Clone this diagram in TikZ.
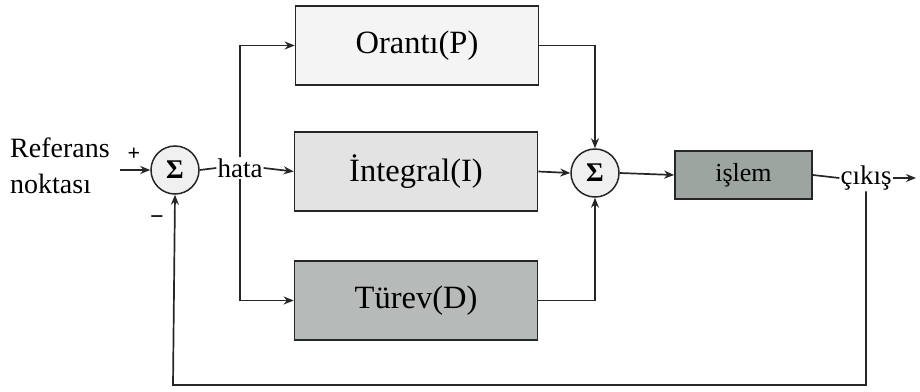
\documentclass[tikz,border=0pt]{standalone}
\usepackage{fontspec}
\setmainfont{Liberation Serif}
\usetikzlibrary{arrows.meta}
\definecolor{fillP}{HTML}{F4F4F4}
\definecolor{fillI}{HTML}{E3E3E3}
\definecolor{fillD}{HTML}{B6BAB8}
\definecolor{fillS}{HTML}{9DA5A1}
\definecolor{fillC}{HTML}{F0F0F0}
\begin{document}
\begin{tikzpicture}[x=1pt,y=-1pt,
  blk/.style={draw=black!85,line width=1.7pt,minimum width=243pt,minimum height=79pt,inner sep=0pt,font=\fontsize{32.5}{36}\selectfont},
  sumc/.style={circle,draw=black!85,line width=1.5pt,fill=fillC,minimum size=48pt,inner sep=0pt,font=\fontsize{27}{30}\selectfont\bfseries},
  lbl/.style={font=\fontsize{27}{36}\selectfont,inner sep=1pt},
  wire/.style={line width=1.7pt,draw=black!85},
  arr/.style={wire,-{Stealth[length=10pt,width=8pt]}}]
\useasboundingbox (0,0) rectangle (920,391);
\node[lbl,align=left,anchor=west,font=\fontsize{28}{36}\selectfont] (ref) at (9,166) {Referans\\noktası};
\node[sumc] (s1) at (175,170) {Σ};
\node[lbl,font=\fontsize{22}{24}\selectfont\bfseries] (plus) at (134,154) {+};
\node[lbl,font=\fontsize{24}{24}\selectfont\bfseries] (minus) at (157,220) {−};
\coordinate (in) at (120,170);
\node[lbl] (hata) at (240,168) {hata};
\node[blk,fill=fillP] (P) at (417,45.5) {Orantı(P)};
\node[blk,fill=fillI] (I) at (416,171.5) {İntegral(I)};
\node[blk,fill=fillD] (D) at (416,300.5) {Türev(D)};
\node[sumc] (s2) at (595,173) {Σ};
\node[draw=black!85,line width=1.7pt,fill=fillS,minimum width=137pt,minimum height=48pt,inner sep=0pt,font=\fontsize{26}{30}\selectfont] (proc) at (743.5,175) {işlem};
\node[lbl] (out) at (866,178) {çıkış};
\coordinate (outend) at (916,178);
\coordinate (fbL) at (173,385);

\draw[arr] (in) -- (s1.west);
\draw[wire] (s1.east) -- (hata.west);
\draw[arr] (hata.east) -- (I.west);
\draw[arr] (hata.north) |- (P.west);
\draw[arr] (hata.south) |- (D.west);
\draw[arr] (P.east) -| (s2.north);
\draw[arr] (D.east) -| (s2.south);
\draw[arr] (I.east) -- (s2.west);
\draw[arr] (s2.east) -- (proc.west);
\draw[wire] (proc.east) -- (out.west);
\draw[arr] (out.east) -- (outend);
\draw[arr] (out.south) |- (fbL) -- (s1.south);
\end{tikzpicture}
\end{document}
